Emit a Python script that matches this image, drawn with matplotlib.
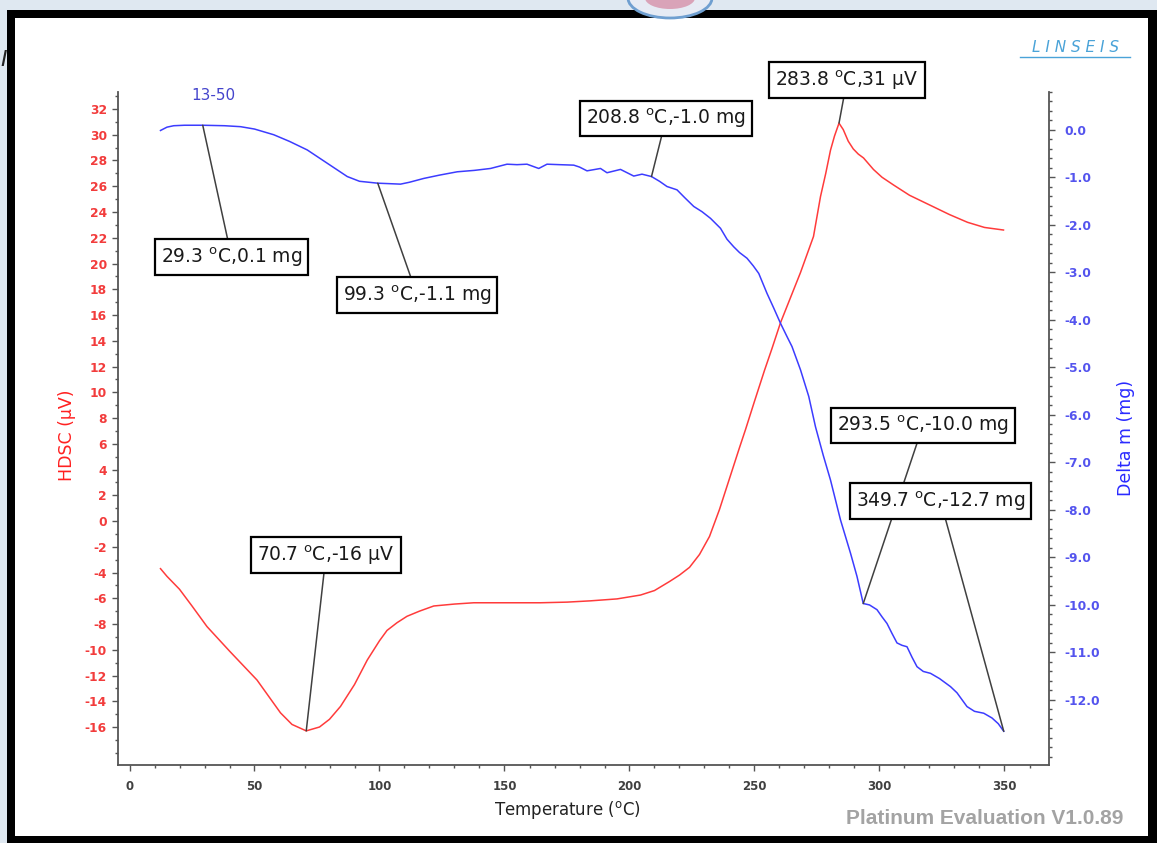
import matplotlib
matplotlib.use('Agg')
import matplotlib.pyplot as plt
from matplotlib.patches import Rectangle, Ellipse
from matplotlib.ticker import MultipleLocator

plt.rcParams['axes.unicode_minus'] = False
plt.rcParams['mathtext.default'] = 'regular'
plt.rcParams['font.family'] = ['DejaVu Sans']

# HDSC signal (red, left axis)
hdsc_T = [12.4, 15, 20, 25, 31, 40, 51, 60.4, 65, 70.7, 76, 80, 84.4, 90, 95.1,
          100, 103, 107, 111, 116, 121.7, 130, 137.7, 150, 164.4, 175, 184.4,
          195, 204.4, 210, 216, 220, 224, 228, 232, 236, 240, 244, 246.4, 250,
          254, 257, 260.4, 264.5, 268.4, 271, 273.6, 276.4, 278.5, 280.4, 282,
          283.8, 285.5, 287.5, 289.5, 291.5, 293.6, 297.6, 301, 305.6, 312,
          321.6, 328, 335.2, 342, 349.6]
hdsc_uV = [-3.7, -4.3, -5.3, -6.6, -8.2, -10.1, -12.35, -14.9, -15.8, -16.3,
           -16.0, -15.4, -14.4, -12.7, -10.8, -9.3, -8.5, -7.9, -7.4, -7.0,
           -6.6, -6.45, -6.35, -6.35, -6.35, -6.3, -6.2, -6.05, -5.75, -5.4,
           -4.7, -4.2, -3.6, -2.6, -1.2, 0.9, 3.3, 5.7, 7.1, 9.3, 11.7, 13.4,
           15.4, 17.4, 19.3, 20.7, 22.1, 25.2, 27.0, 28.8, 29.9, 30.9, 30.4,
           29.5, 28.9, 28.5, 28.2, 27.3, 26.7, 26.1, 25.3, 24.4, 23.8, 23.2,
           22.8, 22.6]

# mass change (blue, right axis)
dm_T = [12.4, 15, 17.7, 22, 29.3, 38, 44.4, 50, 57.7, 64, 71.1, 79.1, 87.1, 92,
        99.3, 104, 108.4, 112, 117.7, 124, 131.1, 138, 144.4, 151, 155, 159,
        163.7, 167, 172, 177.7, 180, 183, 188.4, 191, 196.4, 201.7, 205, 208.8,
        212, 215, 219, 222, 225.7, 229, 232.4, 236.4, 239, 241.7, 244, 247,
        249.5, 251.7, 255, 257.7, 260.4, 263, 265, 268.4, 271.7, 274.4, 277.5,
        280.4, 284.4, 288.4, 291, 293.5, 296, 299, 301, 303, 305, 307, 309,
        311, 313, 315, 317.5, 320.4, 324, 328.4, 331, 335, 338, 341.7, 345,
        347.5, 349.7]
dm_mg = [-0.01, 0.06, 0.09, 0.1, 0.1, 0.09, 0.07, 0.02, -0.1, -0.24, -0.42,
         -0.7, -0.98, -1.08, -1.12, -1.13, -1.14, -1.1, -1.02, -0.95, -0.88,
         -0.85, -0.81, -0.72, -0.73, -0.72, -0.81, -0.72, -0.73, -0.74, -0.78,
         -0.86, -0.81, -0.9, -0.83, -0.97, -0.93, -0.98, -1.08, -1.19, -1.26,
         -1.42, -1.61, -1.72, -1.86, -2.07, -2.3, -2.46, -2.58, -2.7, -2.86,
         -3.02, -3.44, -3.75, -4.07, -4.35, -4.56, -5.05, -5.61, -6.25, -6.85,
         -7.37, -8.21, -8.91, -9.4, -9.97, -10.0, -10.1, -10.25, -10.39, -10.6,
         -10.8, -10.85, -10.88, -11.1, -11.3, -11.4, -11.44, -11.55, -11.72,
         -11.85, -12.14, -12.24, -12.28, -12.38, -12.5, -12.66]

# marked points: (T, value, label T, label value)
hdsc_marks = [(70.7, -16.3, 78.6, -2.64), (283.8, 30.9, 287.0, 34.25)]
dm_marks = [(29.3, 0.1, 40.8, -2.67), (99.3, -1.12, 115.0, -3.47),
            (208.8, -0.98, 214.6, 0.24), (293.5, -9.97, 317.4, -6.22),
            (349.7, -12.66, 324.4, -7.81)]

x_ticks = list(range(0, 351, 50))
hdsc_ticks = list(range(-16, 33, 2))
dm_ticks = list(range(0, -13, -1))

W, H = 1157, 843
fig = plt.figure(figsize=(W / 100, H / 100), dpi=100, facecolor='#dfe8f1')


def rect(x0, y0, x1, y1, **kw):
    # pixel box, origin top-left
    r = Rectangle((x0 / W, 1 - y1 / H), (x1 - x0) / W, (y1 - y0) / H,
                  transform=fig.transFigure, zorder=-5, **kw)
    fig.patches.append(r)


rect(7, 10, 1160, 846, fc='black', ec='none')
rect(15, 18, 1148, 836, fc='white', ec='none')
fig.patches.append(Ellipse((670 / W, 1 + 2 / H), 84 / W, 40 / H,
                           transform=fig.transFigure, fc='#e6ebf4',
                           ec='#6f9fd0', lw=2))
fig.patches.append(Ellipse((670 / W, 1 + 2 / H), 50 / W, 22 / H,
                           transform=fig.transFigure, fc='#d9a3b8', ec='none'))
fig.text(0, 1 - 60 / H, 'I', fontsize=16, style='italic', color='#222222',
         va='center')

ax = fig.add_axes([118 / W, 1 - 765 / H, (1049 - 118) / W, (765 - 92) / H])
ax2 = ax.twinx()
ax.patch.set_alpha(0)
ax2.patch.set_alpha(0)

red = '#ff3b3b'
blue = '#3c3cff'
grey = '#555555'

ax.plot(hdsc_T, hdsc_uV, color=red, lw=1.1)
ax2.plot(dm_T, dm_mg, color=blue, lw=1.1)

ax.set_xlim(-4.6, 367.8)
ax.set_ylim(-18.95, 33.32)
ax2.set_ylim(-13.37, 0.8)

for s in ['top', 'right']:
    ax.spines[s].set_visible(False)
for s in ['top', 'left', 'bottom']:
    ax2.spines[s].set_visible(False)
for a in (ax, ax2):
    for s in a.spines.values():
        s.set_color(grey)
        s.set_linewidth(1.3)

ax.set_xticks(x_ticks, labels=[str(v) for v in x_ticks], fontweight='bold')
ax.set_yticks(hdsc_ticks, labels=[str(v) for v in hdsc_ticks], fontweight='bold')
ax2.set_yticks(dm_ticks, labels=[f'{v:.1f}' for v in dm_ticks], fontweight='bold')
ax.xaxis.set_minor_locator(MultipleLocator(10))
ax.yaxis.set_minor_locator(MultipleLocator(1))
ax2.yaxis.set_minor_locator(MultipleLocator(0.2))

ax.tick_params(axis='x', which='major', length=4, width=1, color=grey,
               labelcolor='#404040', labelsize=8.5, pad=7)
ax.tick_params(axis='x', which='minor', length=2.5, width=1, color=grey)
ax.tick_params(axis='y', which='major', length=4, width=1, color=grey,
               labelcolor='#f23c3c', labelsize=8.8, pad=4)
ax.tick_params(axis='y', which='minor', length=2.5, width=1, color=grey)
ax2.tick_params(axis='y', which='major', length=4, width=1, color=grey,
                labelcolor='#5454ee', labelsize=8.8, pad=7)
ax2.tick_params(axis='y', which='minor', length=2.5, width=1, color=grey)

ax.text(-0.055, 0.49, 'HDSC (µV)', transform=ax.transAxes, rotation=90,
        ha='center', va='center', fontsize=12.5, color='#ff2020')
ax2.text(1.083, 0.486, 'Delta m (mg)', transform=ax2.transAxes, rotation=90,
         ha='center', va='center', fontsize=12.5, color='#2a2aff')
ax.text(0.483, -0.067, 'Temperature ($^{o}$C)', transform=ax.transAxes,
        ha='center', va='center', fontsize=12, color='#222222')
ax.text(0.102, 0.9955, '13-50', transform=ax.transAxes, ha='center',
        va='center', fontsize=11, color='#4444cc')

box_kw = dict(boxstyle='square,pad=0.32', fc='white', ec='black', lw=1.6)
line_kw = dict(arrowstyle='-', color='#404040', lw=1.1, shrinkA=0, shrinkB=0)

for i, (t, v, tx, ty) in enumerate(hdsc_marks):
    ax.annotate(f'{t:.1f} $^{{o}}$C,{v:.0f} µV', xy=(t, v), xytext=(tx, ty),
                ha='center', va='center', fontsize=13.5, color='#1a1a1a',
                bbox=box_kw, arrowprops=line_kw, annotation_clip=False,
                zorder=5 + i)

for i, (t, v, tx, ty) in enumerate(dm_marks):
    ax2.annotate(f'{t:.1f} $^{{o}}$C,{v:.1f} mg', xy=(t, v), xytext=(tx, ty),
                 ha='center', va='center', fontsize=13.5, color='#1a1a1a',
                 bbox=box_kw, arrowprops=line_kw, annotation_clip=False,
                 zorder=5 + i)

fig.text(1075 / W, 1 - 48 / H, 'L I N S E I S', fontsize=11, style='italic',
         color='#4aa3d8', ha='center', va='center')
fig.lines.append(plt.Line2D([1020 / W, 1130 / W], [1 - 57 / H, 1 - 57 / H],
                            transform=fig.transFigure, color='#4aa3d8', lw=1))
fig.text(985 / W, 1 - 819 / H, 'Platinum Evaluation V1.0.89', fontsize=15,
         fontweight='bold', family=['Liberation Sans', 'DejaVu Sans'],
         color='#a3a3a3', ha='center', va='center')

fig.savefig('out.png', dpi=100, facecolor=fig.get_facecolor())
